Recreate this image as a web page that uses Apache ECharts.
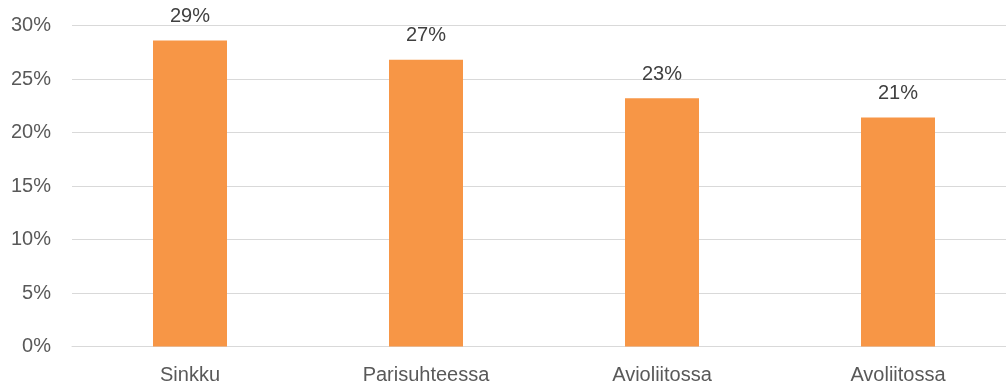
<!DOCTYPE html>
<html>
<head>
<meta charset="utf-8">
<script src="https://cdn.jsdelivr.net/npm/echarts@6/dist/echarts.min.js"></script>
<style>html,body{margin:0;padding:0;background:#fff;overflow:hidden;width:1006px;height:389px}#c{width:1016px;height:389px}</style>
</head>
<body>
<div id="c"></div>
<script>
const categories = ['Sinkku', 'Parisuhteessa', 'Avioliitossa', 'Avoliitossa'];
const values = [28.6, 26.8, 23.2, 21.4];
const yTicks = [0, 5, 10, 15, 20, 25, 30];

const FONT = '"Liberation Sans Narrow", "Arial Narrow", "Liberation Sans", Arial, sans-serif';
const chart = echarts.init(document.getElementById('c'), null, {renderer: 'canvas'});
chart.setOption({
  animation: false,
  grid: {left: 72, right: 0, top: 25.5, bottom: 42.5, containLabel: false},
  xAxis: {
    type: 'category',
    data: categories,
    axisLine: {show: true, lineStyle: {color: '#d9d9d9', width: 1}},
    axisTick: {show: false},
    axisLabel: {color: '#595959', fontSize: 20, fontFamily: FONT, margin: 19}
  },
  yAxis: {
    type: 'value',
    min: yTicks[0], max: yTicks[yTicks.length - 1], interval: 5,
    axisLine: {show: false},
    axisTick: {show: false},
    splitLine: {lineStyle: {color: '#d9d9d9', width: 1}},
    axisLabel: {color: '#595959', fontSize: 20, fontFamily: FONT, margin: 21, formatter: v => v + '%'}
  },
  series: [{
    type: 'bar',
    data: values,
    barWidth: 74,
    itemStyle: {color: '#f79646'},
    label: {
      show: true, position: 'top', distance: 14,
      color: '#404040', fontSize: 20, fontFamily: FONT,
      formatter: p => Math.round(p.value) + '%'
    }
  }]
});
</script>
</body>
</html>
